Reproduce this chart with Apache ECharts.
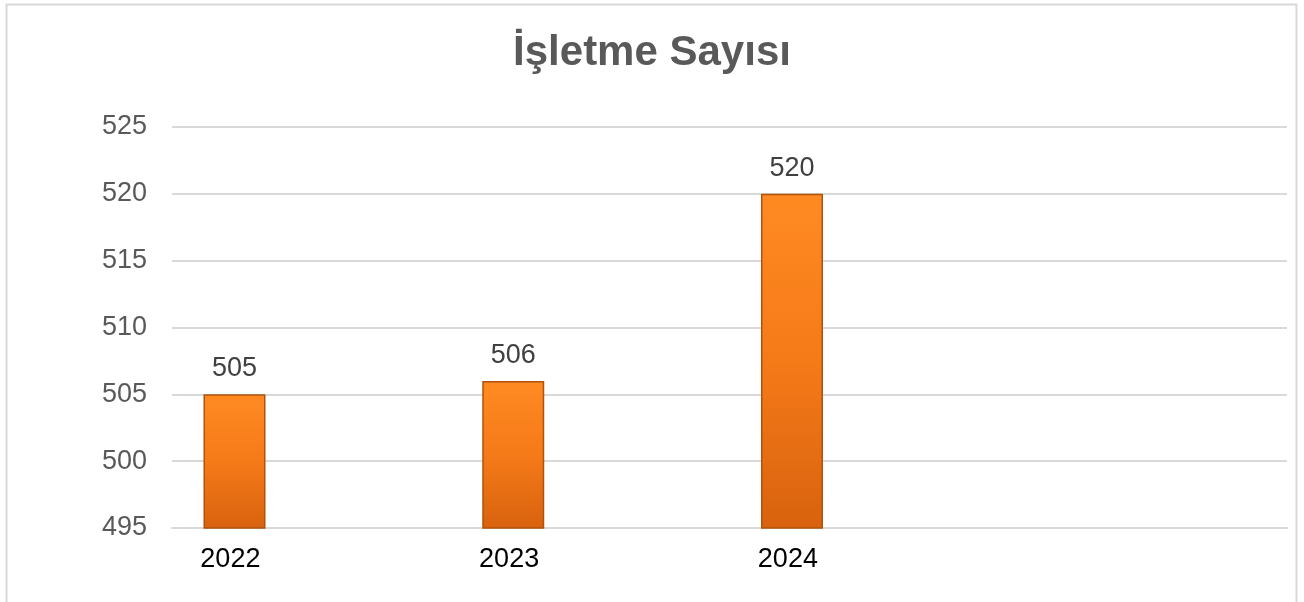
<!DOCTYPE html>
<html>
<head>
<meta charset="utf-8">
<script src="https://cdn.jsdelivr.net/npm/echarts@6/dist/echarts.min.js"></script>
<style>
html,body{margin:0;padding:0;background:#fff;}
#main{width:1304px;height:602px;}
</style>
</head>
<body>
<div id="main"></div>
<script>
const titleText = 'İşletme Sayısı';
const categories = ['2022', '2023', '2024', ''];
const values = [505, 506, 520, null];
const placeholder = [null, null, null, null];
const yMin = 495, yMax = 525, yStep = 5;

const chart = echarts.init(document.getElementById('main'));
const font = '"Liberation Sans", Arial, sans-serif';
chart.setOption({
  animation: false,
  backgroundColor: '#ffffff',
  graphic: [{
    type: 'rect', left: 4, top: 2, silent: true,
    shape: { width: 1290, height: 640 },
    style: { fill: 'none', stroke: '#d9d9d9', lineWidth: 2 }
  }],
  title: {
    text: titleText, left: 'center', top: 27,
    textStyle: { fontFamily: font, fontSize: 42, fontWeight: 'bold', color: '#595959' }
  },
  grid: { left: 172, right: 17, top: 127, bottom: 74, containLabel: false },
  xAxis: {
    type: 'category', data: categories,
    axisLine: { show: true, lineStyle: { color: '#d9d9d9', width: 2 } },
    axisTick: { show: false },
    axisLabel: { fontFamily: font, fontSize: 27, color: '#000000', margin: 18, padding: [0, 162, 0, 0] }
  },
  yAxis: {
    type: 'value', min: yMin, max: yMax, interval: yStep,
    axisLine: { show: false }, axisTick: { show: false },
    axisLabel: { fontFamily: font, fontSize: 27, color: '#595959', margin: 25 },
    splitLine: { lineStyle: { color: '#d9d9d9', width: 2 } }
  },
  series: [{
    type: 'bar', data: values, barWidth: 62, barGap: '148%',
    itemStyle: {
      color: new echarts.graphic.LinearGradient(0, 0, 0, 1, [
        { offset: 0, color: '#ff8a22' },
        { offset: 0.5, color: '#f57a18' },
        { offset: 1, color: '#d8620e' }
      ]),
      borderColor: '#b0520c', borderWidth: 1.5
    },
    label: { show: true, position: 'top', distance: 12, fontFamily: font, fontSize: 27, color: '#404040' }
  }, {
    type: 'bar', data: placeholder, barWidth: 62
  }]
});
</script>
</body>
</html>
